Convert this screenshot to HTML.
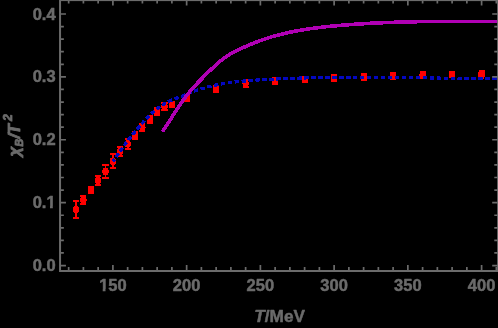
<!DOCTYPE html>
<html><head><meta charset="utf-8"><title>chi_B/T^2 vs T</title>
<style>
html,body{margin:0;padding:0;background:#000;}
svg{display:block}
text{font-family:"Liberation Sans",sans-serif;font-weight:bold;font-size:16.5px;fill:#6b6b6b;stroke:#6b6b6b;stroke-width:0.5px;stroke-linejoin:round;}
</style></head><body>
<svg width="498" height="328" viewBox="0 0 498 328">
<rect x="0" y="0" width="498" height="328" fill="#000"/>
<g shape-rendering="crispEdges">
<path d="M76.03 200.95V218.05M72.98 200.95h6.1M72.98 218.05h6.1" stroke="#ff0000" stroke-width="1.9" fill="none"/><ellipse cx="76.03" cy="209.50" rx="3.2" ry="3.7" fill="#ff0000"/><path d="M83.40 196.15V203.85M80.35 196.15h6.1M80.35 203.85h6.1" stroke="#ff0000" stroke-width="1.9" fill="none"/><ellipse cx="83.40" cy="200.00" rx="3.2" ry="3.7" fill="#ff0000"/><path d="M90.78 187.05V192.95M87.73 187.05h6.1M87.73 192.95h6.1" stroke="#ff0000" stroke-width="1.9" fill="none"/><ellipse cx="90.78" cy="190.00" rx="3.2" ry="3.7" fill="#ff0000"/><path d="M98.15 176.15V185.25M95.10 176.15h6.1M95.10 185.25h6.1" stroke="#ff0000" stroke-width="1.9" fill="none"/><ellipse cx="98.15" cy="180.70" rx="3.2" ry="3.7" fill="#ff0000"/><path d="M105.53 165.00V178.00M102.48 165.00h6.1M102.48 178.00h6.1" stroke="#ff0000" stroke-width="1.9" fill="none"/><ellipse cx="105.53" cy="171.50" rx="3.2" ry="3.7" fill="#ff0000"/><path d="M112.90 154.35V168.05M109.85 154.35h6.1M109.85 168.05h6.1" stroke="#ff0000" stroke-width="1.9" fill="none"/><ellipse cx="112.90" cy="161.20" rx="3.2" ry="3.7" fill="#ff0000"/><path d="M120.27 146.65V155.55M117.22 146.65h6.1M117.22 155.55h6.1" stroke="#ff0000" stroke-width="1.9" fill="none"/><ellipse cx="120.27" cy="151.10" rx="3.2" ry="3.7" fill="#ff0000"/><path d="M127.65 138.55V149.05M124.60 138.55h6.1M124.60 149.05h6.1" stroke="#ff0000" stroke-width="1.9" fill="none"/><ellipse cx="127.65" cy="143.80" rx="3.2" ry="3.7" fill="#ff0000"/><path d="M135.02 131.85V139.35M131.97 131.85h6.1M131.97 139.35h6.1" stroke="#ff0000" stroke-width="1.9" fill="none"/><ellipse cx="135.02" cy="135.60" rx="3.2" ry="3.7" fill="#ff0000"/><path d="M142.40 124.05V130.75M139.35 124.05h6.1M139.35 130.75h6.1" stroke="#ff0000" stroke-width="1.9" fill="none"/><ellipse cx="142.40" cy="127.40" rx="3.2" ry="3.7" fill="#ff0000"/><path d="M149.77 116.15V122.85M146.72 116.15h6.1M146.72 122.85h6.1" stroke="#ff0000" stroke-width="1.9" fill="none"/><ellipse cx="149.77" cy="119.50" rx="3.2" ry="3.7" fill="#ff0000"/><path d="M157.14 108.35V114.65M154.09 108.35h6.1M154.09 114.65h6.1" stroke="#ff0000" stroke-width="1.9" fill="none"/><ellipse cx="157.14" cy="111.50" rx="3.2" ry="3.7" fill="#ff0000"/><path d="M164.52 102.95V109.85M161.47 102.95h6.1M161.47 109.85h6.1" stroke="#ff0000" stroke-width="1.9" fill="none"/><ellipse cx="164.52" cy="106.40" rx="3.2" ry="3.7" fill="#ff0000"/><path d="M171.89 101.45V106.95M168.84 101.45h6.1M168.84 106.95h6.1" stroke="#ff0000" stroke-width="1.9" fill="none"/><ellipse cx="171.89" cy="104.20" rx="3.2" ry="3.7" fill="#ff0000"/><path d="M186.64 95.95V100.85M183.59 95.95h6.1M183.59 100.85h6.1" stroke="#ff0000" stroke-width="1.9" fill="none"/><ellipse cx="186.64" cy="98.40" rx="3.2" ry="3.7" fill="#ff0000"/><path d="M216.14 85.95V91.85M213.09 85.95h6.1M213.09 91.85h6.1" stroke="#ff0000" stroke-width="1.9" fill="none"/><ellipse cx="216.14" cy="88.90" rx="3.2" ry="3.7" fill="#ff0000"/><path d="M245.63 80.25V86.75M242.58 80.25h6.1M242.58 86.75h6.1" stroke="#ff0000" stroke-width="1.9" fill="none"/><ellipse cx="245.63" cy="83.50" rx="3.2" ry="3.7" fill="#ff0000"/><path d="M275.13 78.15V83.85M272.08 78.15h6.1M272.08 83.85h6.1" stroke="#ff0000" stroke-width="1.9" fill="none"/><ellipse cx="275.13" cy="81.00" rx="3.2" ry="3.7" fill="#ff0000"/><path d="M304.62 76.85V82.15M301.57 76.85h6.1M301.57 82.15h6.1" stroke="#ff0000" stroke-width="1.9" fill="none"/><ellipse cx="304.62" cy="79.50" rx="3.2" ry="3.7" fill="#ff0000"/><path d="M334.12 74.95V81.05M331.07 74.95h6.1M331.07 81.05h6.1" stroke="#ff0000" stroke-width="1.9" fill="none"/><ellipse cx="334.12" cy="78.00" rx="3.2" ry="3.7" fill="#ff0000"/><path d="M363.62 74.10V80.00M360.57 74.10h6.1M360.57 80.00h6.1" stroke="#ff0000" stroke-width="1.9" fill="none"/><ellipse cx="363.62" cy="77.05" rx="3.2" ry="3.7" fill="#ff0000"/><path d="M393.11 72.95V78.85M390.06 72.95h6.1M390.06 78.85h6.1" stroke="#ff0000" stroke-width="1.9" fill="none"/><ellipse cx="393.11" cy="75.90" rx="3.2" ry="3.7" fill="#ff0000"/><path d="M422.61 71.90V78.00M419.56 71.90h6.1M419.56 78.00h6.1" stroke="#ff0000" stroke-width="1.9" fill="none"/><ellipse cx="422.61" cy="74.95" rx="3.2" ry="3.7" fill="#ff0000"/><path d="M452.10 71.75V77.45M449.05 71.75h6.1M449.05 77.45h6.1" stroke="#ff0000" stroke-width="1.9" fill="none"/><ellipse cx="452.10" cy="74.60" rx="3.2" ry="3.7" fill="#ff0000"/><path d="M481.60 70.65V75.95M478.55 70.65h6.1M478.55 75.95h6.1" stroke="#ff0000" stroke-width="1.9" fill="none"/><ellipse cx="481.60" cy="73.30" rx="3.2" ry="3.7" fill="#ff0000"/><ellipse cx="481.1" cy="76.3" rx="3.1" ry="3.7" fill="#ff0000"/>
<path d="M112.90 161.66 L114.40 159.42 L115.90 157.21 L117.40 155.03 L118.90 152.89 L120.40 150.77 L121.90 148.67 L123.40 146.61 L124.90 144.58 L126.40 142.57 L127.90 140.60 L129.40 138.65 L130.90 136.73 L132.40 134.83 L133.90 132.97 L135.40 131.13 L136.90 129.32 L138.40 127.54 L139.90 125.79 L141.40 124.08 L142.90 122.40 L144.40 120.76 L145.90 119.16 L147.40 117.61 L148.90 116.10 L150.40 114.63 L151.90 113.22 L153.40 111.86 L154.90 110.56 L156.40 109.31 L157.90 108.12 L159.40 106.99 L160.90 105.92 L162.40 104.93 L163.90 104.00 L165.40 103.14 L166.90 102.35 L168.40 101.62 L169.90 100.93 L171.40 100.28 L172.90 99.66 L174.40 99.05 L175.90 98.46 L177.40 97.88 L178.90 97.30 L180.40 96.72 L181.90 96.15 L183.40 95.56 L184.90 94.97 L186.40 94.36 L187.90 93.74 L189.40 93.13 L190.90 92.52 L192.40 91.94 L193.90 91.37 L195.40 90.82 L196.90 90.29 L198.40 89.78 L199.90 89.29 L201.40 88.81 L202.90 88.36 L204.40 87.92 L205.90 87.49 L207.40 87.08 L208.90 86.69 L210.40 86.31 L211.90 85.95 L213.40 85.60 L214.90 85.27 L216.40 84.95 L217.90 84.64 L219.40 84.35 L220.90 84.07 L222.40 83.80 L223.90 83.54 L225.40 83.30 L226.90 83.06 L228.40 82.84 L229.90 82.63 L231.40 82.42 L232.90 82.23 L234.40 82.04 L235.90 81.86 L237.40 81.70 L238.90 81.53 L240.40 81.38 L241.90 81.23 L243.40 81.09 L244.90 80.96 L246.40 80.83 L247.90 80.71 L249.40 80.59 L250.90 80.48 L252.40 80.37 L253.90 80.27 L255.40 80.17 L256.90 80.07 L258.40 79.98 L259.90 79.88 L261.40 79.79 L262.90 79.70 L264.40 79.62 L265.90 79.53 L267.40 79.45 L268.90 79.37 L270.40 79.29 L271.90 79.21 L273.40 79.14 L274.90 79.06 L276.40 78.99 L277.90 78.92 L279.40 78.85 L280.90 78.78 L282.40 78.72 L283.90 78.65 L285.40 78.59 L286.90 78.53 L288.40 78.47 L289.90 78.41 L291.40 78.36 L292.90 78.31 L294.40 78.25 L295.90 78.20 L297.40 78.15 L298.90 78.10 L300.40 78.06 L301.90 78.01 L303.40 77.97 L304.90 77.93 L306.40 77.89 L307.90 77.85 L309.40 77.81 L310.90 77.77 L312.40 77.74 L313.90 77.70 L315.40 77.67 L316.90 77.64 L318.40 77.61 L319.90 77.58 L321.40 77.56 L322.90 77.53 L324.40 77.51 L325.90 77.48 L327.40 77.46 L328.90 77.44 L330.40 77.42 L331.90 77.40 L333.40 77.38 L334.90 77.37 L336.40 77.35 L337.90 77.34 L339.40 77.33 L340.90 77.31 L342.40 77.30 L343.90 77.29 L345.40 77.28 L346.90 77.28 L348.40 77.27 L349.90 77.26 L351.40 77.26 L352.90 77.25 L354.40 77.25 L355.90 77.25 L357.40 77.25 L358.90 77.25 L360.40 77.25 L361.90 77.25 L363.40 77.25 L364.90 77.26 L366.40 77.26 L367.90 77.26 L369.40 77.27 L370.90 77.28 L372.40 77.28 L373.90 77.29 L375.40 77.30 L376.90 77.31 L378.40 77.32 L379.90 77.33 L381.40 77.34 L382.90 77.35 L384.40 77.36 L385.90 77.38 L387.40 77.39 L388.90 77.40 L390.40 77.42 L391.90 77.43 L393.40 77.45 L394.90 77.46 L396.40 77.48 L397.90 77.50 L399.40 77.52 L400.90 77.53 L402.40 77.55 L403.90 77.57 L405.40 77.59 L406.90 77.61 L408.40 77.63 L409.90 77.65 L411.40 77.67 L412.90 77.69 L414.40 77.71 L415.90 77.73 L417.40 77.76 L418.90 77.78 L420.40 77.80 L421.90 77.82 L423.40 77.85 L424.90 77.87 L426.40 77.89 L427.90 77.91 L429.40 77.94 L430.90 77.96 L432.40 77.98 L433.90 78.01 L435.40 78.03 L436.90 78.06 L438.40 78.08 L439.90 78.10 L441.40 78.13 L442.90 78.15 L444.40 78.18 L445.90 78.20 L447.40 78.22 L448.90 78.25 L450.40 78.27 L451.90 78.29 L453.40 78.32 L454.90 78.34 L456.40 78.36 L457.90 78.39 L459.40 78.41 L460.90 78.43 L462.40 78.45 L463.90 78.48 L465.40 78.50 L466.90 78.52 L468.40 78.54 L469.90 78.56 L471.40 78.58 L472.90 78.60 L474.40 78.62 L475.90 78.64 L477.40 78.66 L478.90 78.68 L480.40 78.70 L481.90 78.72 L483.40 78.74 L484.90 78.75 L486.40 78.77 L487.90 78.79 L489.40 78.80 L490.90 78.82 L492.40 78.83 L493.90 78.85 L495.40 78.86 L496.90 78.87 L498.00 78.88" fill="none" stroke="#0408c0" stroke-width="3.2" stroke-dasharray="4.5 2.47" stroke-dashoffset="1.40"/>
<path d="M162.40 131.44 L163.90 129.30 L165.40 127.11 L166.90 124.87 L168.40 122.59 L169.90 120.29 L171.40 117.97 L172.90 115.64 L174.40 113.32 L175.90 111.00 L177.40 108.71 L178.90 106.45 L180.40 104.23 L181.90 102.05 L183.40 99.94 L184.90 97.89 L186.40 95.89 L187.90 93.97 L189.40 92.11 L190.90 90.31 L192.40 88.58 L193.90 86.90 L195.40 85.28 L196.90 83.69 L198.40 82.14 L199.90 80.60 L201.40 79.08 L202.90 77.57 L204.40 76.05 L205.90 74.54 L207.40 73.04 L208.90 71.56 L210.40 70.09 L211.90 68.64 L213.40 67.21 L214.90 65.82 L216.40 64.45 L217.90 63.13 L219.40 61.84 L220.90 60.59 L222.40 59.40 L223.90 58.25 L225.40 57.16 L226.90 56.13 L228.40 55.16 L229.90 54.25 L231.40 53.39 L232.90 52.58 L234.40 51.80 L235.90 51.05 L237.40 50.32 L238.90 49.61 L240.40 48.90 L241.90 48.21 L243.40 47.52 L244.90 46.84 L246.40 46.17 L247.90 45.51 L249.40 44.86 L250.90 44.23 L252.40 43.61 L253.90 43.00 L255.40 42.41 L256.90 41.83 L258.40 41.27 L259.90 40.72 L261.40 40.18 L262.90 39.66 L264.40 39.15 L265.90 38.65 L267.40 38.16 L268.90 37.69 L270.40 37.23 L271.90 36.78 L273.40 36.34 L274.90 35.92 L276.40 35.50 L277.90 35.10 L279.40 34.71 L280.90 34.32 L282.40 33.95 L283.90 33.59 L285.40 33.24 L286.90 32.90 L288.40 32.56 L289.90 32.24 L291.40 31.93 L292.90 31.62 L294.40 31.33 L295.90 31.04 L297.40 30.76 L298.90 30.49 L300.40 30.23 L301.90 29.97 L303.40 29.72 L304.90 29.48 L306.40 29.25 L307.90 29.02 L309.40 28.80 L310.90 28.59 L312.40 28.38 L313.90 28.18 L315.40 27.99 L316.90 27.80 L318.40 27.61 L319.90 27.43 L321.40 27.26 L322.90 27.09 L324.40 26.92 L325.90 26.76 L327.40 26.60 L328.90 26.45 L330.40 26.30 L331.90 26.15 L333.40 26.01 L334.90 25.87 L336.40 25.74 L337.90 25.60 L339.40 25.47 L340.90 25.34 L342.40 25.21 L343.90 25.09 L345.40 24.97 L346.90 24.85 L348.40 24.74 L349.90 24.62 L351.40 24.51 L352.90 24.40 L354.40 24.30 L355.90 24.20 L357.40 24.10 L358.90 24.00 L360.40 23.90 L361.90 23.81 L363.40 23.71 L364.90 23.63 L366.40 23.54 L367.90 23.45 L369.40 23.37 L370.90 23.29 L372.40 23.21 L373.90 23.14 L375.40 23.06 L376.90 22.99 L378.40 22.92 L379.90 22.85 L381.40 22.78 L382.90 22.72 L384.40 22.66 L385.90 22.60 L387.40 22.54 L388.90 22.48 L390.40 22.43 L391.90 22.37 L393.40 22.32 L394.90 22.27 L396.40 22.22 L397.90 22.18 L399.40 22.13 L400.90 22.09 L402.40 22.05 L403.90 22.01 L405.40 21.97 L406.90 21.93 L408.40 21.89 L409.90 21.86 L411.40 21.83 L412.90 21.80 L414.40 21.77 L415.90 21.74 L417.40 21.71 L418.90 21.68 L420.40 21.66 L421.90 21.64 L423.40 21.61 L424.90 21.59 L426.40 21.57 L427.90 21.55 L429.40 21.54 L430.90 21.52 L432.40 21.50 L433.90 21.49 L435.40 21.47 L436.90 21.46 L438.40 21.45 L439.90 21.44 L441.40 21.43 L442.90 21.42 L444.40 21.41 L445.90 21.40 L447.40 21.40 L448.90 21.39 L450.40 21.39 L451.90 21.38 L453.40 21.38 L454.90 21.37 L456.40 21.37 L457.90 21.37 L459.40 21.37 L460.90 21.37 L462.40 21.37 L463.90 21.37 L465.40 21.37 L466.90 21.37 L468.40 21.37 L469.90 21.37 L471.40 21.37 L472.90 21.37 L474.40 21.38 L475.90 21.38 L477.40 21.38 L478.90 21.39 L480.40 21.39 L481.90 21.39 L483.40 21.40 L484.90 21.40 L486.40 21.40 L487.90 21.41 L489.40 21.41 L490.90 21.42 L492.40 21.42 L493.90 21.42 L495.40 21.43 L496.90 21.43 L498.00 21.43" fill="none" stroke="#b000b4" stroke-width="3.6" stroke-linejoin="round"/>
</g>
<rect x="60.05" y="0.1" width="438.05" height="270.9" fill="none" stroke="#6b6b6b" stroke-width="2.0"/>
<path d="M68.66 271.0 v-3.9 M68.66 0.1 v3.3499999999999996 M83.40 271.0 v-3.9 M83.40 0.1 v3.3499999999999996 M98.15 271.0 v-3.9 M98.15 0.1 v3.3499999999999996 M112.90 271.0 v-6.0 M112.90 0.1 v5.45 M127.65 271.0 v-3.9 M127.65 0.1 v3.3499999999999996 M142.40 271.0 v-3.9 M142.40 0.1 v3.3499999999999996 M157.14 271.0 v-3.9 M157.14 0.1 v3.3499999999999996 M171.89 271.0 v-3.9 M171.89 0.1 v3.3499999999999996 M186.64 271.0 v-6.0 M186.64 0.1 v5.45 M201.39 271.0 v-3.9 M201.39 0.1 v3.3499999999999996 M216.14 271.0 v-3.9 M216.14 0.1 v3.3499999999999996 M230.88 271.0 v-3.9 M230.88 0.1 v3.3499999999999996 M245.63 271.0 v-3.9 M245.63 0.1 v3.3499999999999996 M260.38 271.0 v-6.0 M260.38 0.1 v5.45 M275.13 271.0 v-3.9 M275.13 0.1 v3.3499999999999996 M289.88 271.0 v-3.9 M289.88 0.1 v3.3499999999999996 M304.62 271.0 v-3.9 M304.62 0.1 v3.3499999999999996 M319.37 271.0 v-3.9 M319.37 0.1 v3.3499999999999996 M334.12 271.0 v-6.0 M334.12 0.1 v5.45 M348.87 271.0 v-3.9 M348.87 0.1 v3.3499999999999996 M363.62 271.0 v-3.9 M363.62 0.1 v3.3499999999999996 M378.36 271.0 v-3.9 M378.36 0.1 v3.3499999999999996 M393.11 271.0 v-3.9 M393.11 0.1 v3.3499999999999996 M407.86 271.0 v-6.0 M407.86 0.1 v5.45 M422.61 271.0 v-3.9 M422.61 0.1 v3.3499999999999996 M437.36 271.0 v-3.9 M437.36 0.1 v3.3499999999999996 M452.10 271.0 v-3.9 M452.10 0.1 v3.3499999999999996 M466.85 271.0 v-3.9 M466.85 0.1 v3.3499999999999996 M481.60 271.0 v-6.0 M481.60 0.1 v5.45 M496.35 271.0 v-3.9 M496.35 0.1 v3.3499999999999996 M60.05 265.55 h5.9 M498.1 265.55 h-5.9 M60.05 252.97 h3.8 M498.1 252.97 h-3.8 M60.05 240.39 h3.8 M498.1 240.39 h-3.8 M60.05 227.82 h3.8 M498.1 227.82 h-3.8 M60.05 215.24 h3.8 M498.1 215.24 h-3.8 M60.05 202.66 h5.9 M498.1 202.66 h-5.9 M60.05 190.08 h3.8 M498.1 190.08 h-3.8 M60.05 177.50 h3.8 M498.1 177.50 h-3.8 M60.05 164.93 h3.8 M498.1 164.93 h-3.8 M60.05 152.35 h3.8 M498.1 152.35 h-3.8 M60.05 139.77 h5.9 M498.1 139.77 h-5.9 M60.05 127.19 h3.8 M498.1 127.19 h-3.8 M60.05 114.61 h3.8 M498.1 114.61 h-3.8 M60.05 102.04 h3.8 M498.1 102.04 h-3.8 M60.05 89.46 h3.8 M498.1 89.46 h-3.8 M60.05 76.88 h5.9 M498.1 76.88 h-5.9 M60.05 64.30 h3.8 M498.1 64.30 h-3.8 M60.05 51.72 h3.8 M498.1 51.72 h-3.8 M60.05 39.15 h3.8 M498.1 39.15 h-3.8 M60.05 26.57 h3.8 M498.1 26.57 h-3.8 M60.05 13.99 h5.9 M498.1 13.99 h-5.9" stroke="#6b6b6b" stroke-width="1.7" fill="none"/>
<g style="filter:grayscale(1)">
<text x="112.90" y="291.2" text-anchor="middle">150</text><text x="186.64" y="291.2" text-anchor="middle">200</text><text x="260.38" y="291.2" text-anchor="middle">250</text><text x="334.12" y="291.2" text-anchor="middle">300</text><text x="407.86" y="291.2" text-anchor="middle">350</text><text x="481.60" y="291.2" text-anchor="middle">400</text><text x="55.6" y="271.15" text-anchor="end">0.0</text><text x="55.6" y="208.26" text-anchor="end">0.1</text><text x="55.6" y="145.37" text-anchor="end">0.2</text><text x="55.6" y="82.48" text-anchor="end">0.3</text><text x="55.6" y="19.59" text-anchor="end">0.4</text>
<rect x="46.36" y="206.03" width="3.64" height="3.68" fill="#000" stroke="none"/><rect x="52.81" y="206.03" width="3.70" height="3.68" fill="#000" stroke="none"/><rect x="99.07" y="288.97" width="3.64" height="3.68" fill="#000" stroke="none"/><rect x="105.52" y="288.97" width="3.70" height="3.68" fill="#000" stroke="none"/>
<text x="254.3" y="321.8" style="font-size:17.2px"><tspan font-style="italic">T</tspan>/MeV</text>
<g transform="translate(19.8,156.7) rotate(-90)"><text style="font-style:italic;font-size:17px;stroke-width:0.8px"><tspan x="0.1" y="0">χ</tspan><tspan x="10.3" y="3.2" style="font-size:10.5px">B</tspan><tspan x="18.2" y="0">/</tspan><tspan x="22.2" y="0">T</tspan><tspan x="35.8" y="-8.2" style="font-size:12px">2</tspan></text></g>
</g>
</svg>
</body></html>
